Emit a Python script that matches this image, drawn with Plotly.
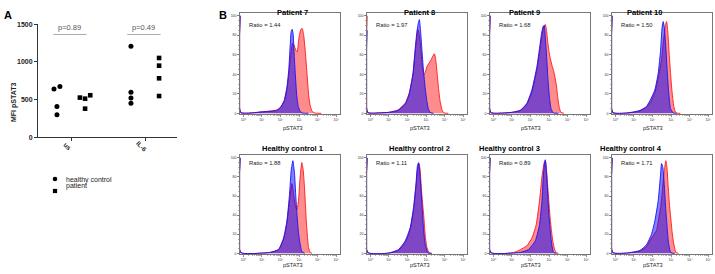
import numpy as np
import plotly.graph_objects as go

W, H = 715, 274
FONT = "Arial, 'Liberation Sans', Helvetica, sans-serif"

# ---------------- Panel A data ----------------
groups = ["us", "IL-6"]
hc_us = [640, 675, 410, 300]
hc_il6 = [1208, 598, 522, 451]
pt_us = [527, 513, 380, 558]
pt_il6 = [1053, 951, 783, 548]
p_values = ["p=0.89", "p=0.49"]

# ---------------- Panel B data (log10 pSTAT3, % of max) ----------------
titles = ["Patient 7", "Patient 8", "Patient 9", "Patient 10",
          "Healthy control 1", "Healthy control 2", "Healthy control 3", "Healthy control 4"]
ratios = ["1.44", "1.97", "1.68", "1.50", "1.88", "1.11", "0.89", "1.71"]
decade_labels = ["10⁰", "10¹", "10²", "10³", "10⁴", "10⁵"]

p7_blue = [(-0.16,100),(-0.13,1),(0.5,0.5),(1.0,1.5),(1.5,2),(1.8,3),(2.0,6),(2.2,13),(2.35,27),(2.45,45),
           (2.52,68),(2.58,84),(2.63,86),(2.68,82),(2.74,60),(2.8,40),(2.88,18),(2.96,7),(3.06,2),(3.2,0.3),(3.5,0)]
p7_red = [(-0.16,100),(-0.13,1),(0.5,0.5),(1.0,1.5),(1.5,2.5),(1.8,3.5),(2.0,6),(2.2,12),(2.35,24),(2.45,40),
          (2.55,58),(2.65,72),(2.73,70),(2.82,65),(2.9,63),(3.0,78),(3.1,86),(3.17,87),(3.25,80),(3.35,60),
          (3.43,40),(3.52,18),(3.6,8),(3.7,2),(3.85,0.3),(4.2,0)]
p8_blue = [(-0.16,85),(-0.13,1),(0.5,0.5),(1.0,1),(1.5,3),(1.9,10),(2.1,20),(2.3,41),(2.4,62),(2.5,82),
           (2.58,92),(2.64,96),(2.7,86),(2.78,65),(2.86,45),(2.96,25),(3.05,12),(3.12,5),(3.22,1),(3.4,0)]
p8_red = [(-0.16,100),(-0.13,1),(0.5,0.5),(1.0,1),(1.5,3.5),(1.9,11),(2.1,21),(2.3,40),(2.4,60),(2.5,78),
          (2.56,86),(2.62,82),(2.7,70),(2.8,48),(2.88,40),(2.96,42),(3.05,48),(3.15,51),(3.25,54),(3.35,58),
          (3.45,61),(3.52,55),(3.6,40),(3.68,24),(3.76,12),(3.85,4),(3.95,0.5),(4.2,0)]
p9_blue = [(-0.16,100),(-0.13,1),(0.5,0.3),(1.0,1),(1.45,3),(1.8,10),(2.08,24),(2.35,48),(2.5,68),(2.6,82),
           (2.68,89),(2.74,90),(2.8,78),(2.87,58),(2.95,33),(3.03,15),(3.12,4),(3.24,0.5),(3.5,0)]
p9_red = [(-0.16,100),(-0.13,1),(0.5,0.3),(1.0,1),(1.45,3),(1.8,9),(2.08,22),(2.35,45),(2.5,64),(2.62,80),
          (2.72,89),(2.8,91),(2.86,86),(2.92,75),(3.0,63),(3.07,56),(3.16,49),(3.24,44),(3.32,37),(3.4,28),
          (3.47,16),(3.55,6),(3.64,1),(3.8,0)]
p10_blue = [(-0.16,100),(-0.13,1),(0.6,0.3),(1.0,1.5),(1.33,3),(1.68,7),(1.92,15),(2.13,24),(2.31,41),(2.44,65),
            (2.52,88),(2.58,94),(2.64,88),(2.72,68),(2.8,42),(2.88,20),(2.97,5),(3.12,0.5),(3.3,0)]
p10_red = [(-0.16,100),(-0.13,1),(0.6,0.3),(1.0,1),(1.33,2.5),(1.68,6),(1.92,12),(2.13,21),(2.31,36),(2.49,55),
           (2.6,75),(2.7,90),(2.76,94),(2.82,85),(2.9,61),(2.97,42),(3.03,27),(3.1,14),(3.15,7),(3.22,2),
           (3.3,0.3),(3.5,0)]
hc1_blue = [(-0.16,100),(-0.13,1),(1.0,0.3),(1.45,1),(1.9,4),(2.17,16),(2.35,34),(2.49,62),(2.58,87),(2.67,97),
            (2.76,83),(2.82,62),(2.89,41),(2.96,24),(3.03,13),(3.15,2),(3.3,0)]
hc1_red = [(-0.16,100),(-0.13,1),(1.0,0.3),(1.45,1),(1.9,4),(2.17,15),(2.35,32),(2.49,55),(2.62,73),(2.72,60),
           (2.8,50),(2.89,46),(2.97,55),(3.06,80),(3.15,95),(3.22,88),(3.28,73),(3.34,52),(3.39,34),(3.45,18),
           (3.51,6),(3.6,1),(3.7,0)]
hc2_blue = [(-0.16,100),(-0.13,1),(1.0,0.3),(1.52,4),(1.88,13),(2.15,27),(2.33,48),(2.46,73),(2.54,92),(2.6,95),
            (2.66,86),(2.72,70),(2.81,41),(2.88,22),(2.96,9),(3.1,0.5),(3.3,0)]
hc2_red = [(-0.16,100),(-0.13,1),(1.0,0.3),(1.52,3),(1.88,11),(2.15,25),(2.33,45),(2.46,70),(2.55,88),(2.62,94),
           (2.68,88),(2.76,65),(2.87,41),(2.96,18),(3.05,6),(3.17,0.5),(3.3,0)]
hc3_blue = [(-0.16,100),(-0.13,1),(1.0,0.3),(1.45,1),(1.9,4),(2.26,13),(2.49,30),(2.62,55),(2.7,83),(2.77,96),
            (2.8,98),(2.84,92),(2.88,80),(2.94,58),(2.99,41),(3.06,25),(3.12,13),(3.24,1),(3.4,0)]
hc3_red = [(-0.16,100),(-0.13,1),(1.0,0.5),(1.27,2),(1.81,8),(2.08,16),(2.31,30),(2.49,55),(2.62,80),(2.74,95),
           (2.8,97),(2.86,88),(2.92,73),(3.0,52),(3.06,37),(3.13,24),(3.2,13),(3.3,4),(3.39,0.5),(3.5,0)]
hc4_blue = [(-0.16,100),(-0.13,1),(0.6,0.3),(1.33,3),(1.68,9),(1.95,20),(2.13,34),(2.31,55),(2.44,83),(2.49,94),
            (2.54,92),(2.58,87),(2.65,68),(2.72,45),(2.8,25),(2.85,13),(2.93,4),(3.0,0.5),(3.2,0)]
hc4_red = [(-0.16,100),(-0.13,1),(0.6,0.3),(1.33,2.5),(1.68,7),(1.95,16),(2.22,24),(2.34,36),(2.44,48),(2.52,62),
           (2.58,76),(2.65,88),(2.72,97),(2.78,90),(2.85,69),(2.92,50),(3.0,34),(3.06,22),(3.12,13),(3.2,5),
           (3.26,1),(3.4,0)]

blue_curves = [p7_blue, p8_blue, p9_blue, p10_blue, hc1_blue, hc2_blue, hc3_blue, hc4_blue]
red_curves = [p7_red, p8_red, p9_red, p10_red, hc1_red, hc2_red, hc3_red, hc4_red]

# ---------------- layout helpers ----------------
def px(x):
    return x / W

def py(y):
    return (H - y) / H

fig = go.Figure()
annotations = []
shapes = []

# ---------------- Panel A ----------------
hc_us_dx = [-0.23, -0.15, -0.19, -0.19]
pt_us_dx = [0.12, 0.19, 0.19, 0.26]
hc_il6_dx = [-0.19] * 4
pt_il6_dx = [0.19] * 4

hc_x = [1 + d for d in hc_us_dx] + [2 + d for d in hc_il6_dx]
pt_x = [1 + d for d in pt_us_dx] + [2 + d for d in pt_il6_dx]
fig.add_trace(go.Scatter(x=hc_x, y=hc_us + hc_il6, mode="markers", name="healthy control",
                         marker=dict(symbol="circle", size=5, color="black"),
                         xaxis="x", yaxis="y", cliponaxis=False, showlegend=False))
fig.add_trace(go.Scatter(x=pt_x, y=pt_us + pt_il6, mode="markers", name="patient",
                         marker=dict(symbol="square", size=4.6, color="black"),
                         xaxis="x", yaxis="y", cliponaxis=False, showlegend=False))

layout_axes = {}
layout_axes["xaxis"] = dict(domain=[px(38), px(177)], range=[0.554, 2.432], anchor="y", automargin=False,
                            showline=True, linecolor="#333", linewidth=1, ticks="outside",
                            ticklen=3, tickcolor="#333", tickvals=[1, 2], showticklabels=False,
                            showgrid=False, zeroline=False)
layout_axes["yaxis"] = dict(domain=[py(137.3), py(24.3)], range=[0, 1500], anchor="x", automargin=False,
                            showline=True, linecolor="#333", linewidth=1, ticks="outside",
                            ticklen=3, tickcolor="#333", tickvals=[0, 500, 1000, 1500],
                            tickfont=dict(size=7, family=FONT, color="#222", weight="bold"),
                            showgrid=False, zeroline=False)

for i, g in enumerate(groups):
    annotations.append(dict(x=i + 1 - 0.04, y=py(146), xref="x", yref="paper", text="<b>%s</b>" % g,
                            showarrow=False, textangle=45, font=dict(size=6.5, family=FONT, color="#222")))
for i, p in enumerate(p_values):
    annotations.append(dict(x=i + 1 - 0.02, y=1452, xref="x", yref="y", text=p, showarrow=False,
                            font=dict(size=7.5, family=FONT, color="#555")))
    shapes.append(dict(type="line", xref="x", yref="y", x0=i + 1 - 0.24, x1=i + 1 + 0.21,
                       y0=1365, y1=1365, line=dict(color="#aaa", width=1)))
annotations.append(dict(x=px(8), y=py(80), xref="paper", yref="paper", text="<b>MFI pSTAT3</b>",
                        textangle=-90, showarrow=False, font=dict(size=7, family=FONT, color="#222")))
# legend
shapes.append(dict(type="circle", xref="paper", yref="paper", x0=px(52.7), x1=px(57.3),
                   y0=py(181.3), y1=py(176.7), fillcolor="black", line=dict(width=0)))
shapes.append(dict(type="rect", xref="paper", yref="paper", x0=px(52.9), x1=px(57.1),
                   y0=py(193.1), y1=py(188.9), fillcolor="black", line=dict(width=0)))
annotations.append(dict(x=px(64), y=py(179.5), xref="paper", yref="paper", text="healthy control",
                        xanchor="left", showarrow=False, font=dict(size=7, family=FONT, color="#222")))
annotations.append(dict(x=px(64), y=py(191.5), xref="paper", yref="paper", text="patient",
                        xanchor="left", showarrow=False, font=dict(size=7, family=FONT, color="#222")))

annotations.append(dict(x=px(1.5), y=py(7.5), xref="paper", yref="paper", text="<b>A</b>", xanchor="left",
                        showarrow=False, font=dict(size=11, family=FONT, color="black")))
annotations.append(dict(x=px(217), y=py(7.5), xref="paper", yref="paper", text="<b>B</b>", xanchor="left",
                        showarrow=False, font=dict(size=11, family=FONT, color="black")))

# ---------------- Panel B ----------------
lefts = [240, 367, 490, 612]
pw = 100
rows = [dict(bottom=114.3, top=12.8, title=6, ratio=20, xt=128.2),
        dict(bottom=254.3, top=155.0, title=148, ratio=163, xt=269.8)]
minor_vals = [m * 10 ** d for d in range(0, 5) for m in range(2, 10)]

for k in range(8):
    r = rows[k // 4]
    L = lefts[k % 4]
    n = k + 2
    xa, ya = "x%d" % n, "y%d" % n
    for curve, lc, fc in [(red_curves[k], "rgb(255,20,20)", "rgba(255,0,0,0.45)"),
                          (blue_curves[k], "rgb(20,20,255)", "rgba(0,0,255,0.5)")]:
        lx = [c[0] for c in curve]
        yy = [c[1] for c in curve]
        fig.add_trace(go.Scatter(x=10 ** np.array(lx), y=yy, mode="lines", fill="tozeroy",
                                 fillcolor=fc, line=dict(color=lc, width=0.9, shape="spline", smoothing=0.5),
                                 xaxis=xa, yaxis=ya, showlegend=False, hoverinfo="skip"))
    layout_axes["xaxis%d" % n] = dict(
        domain=[px(L), px(L + pw)], type="log", range=[-0.17, 5.2], anchor=ya, automargin=False,
        showline=True, mirror=True, linecolor="#555", linewidth=0.8,
        ticks="outside", ticklen=1.6, tickcolor="#444", tickwidth=0.6,
        tickvals=[1, 10, 100, 1000, 10000, 100000],
        ticktext=decade_labels,
        tickfont=dict(size=3.6, family=FONT, color="#333"),
        minor=dict(tickvals=minor_vals, ticks="outside", ticklen=1.0, tickcolor="#666", tickwidth=0.5),
        showgrid=False, zeroline=False)
    layout_axes["yaxis%d" % n] = dict(
        domain=[py(r["bottom"]), py(r["top"])], range=[-1, 103], anchor=xa, automargin=False,
        showline=True, mirror=True, linecolor="#555", linewidth=0.8,
        ticks="outside", ticklen=2, tickcolor="#444", tickwidth=0.6,
        tickvals=[0, 20, 40, 60, 80, 100],
        tickfont=dict(size=3.5, family=FONT, color="#333"),
        minor=dict(dtick=5, ticks="outside", ticklen=1.2, tickcolor="#666", tickwidth=0.5),
        showgrid=False, zeroline=False)
    annotations.append(dict(x=px(L + pw / 2 + 2), y=py(r["title"]), xref="paper", yref="paper",
                            text="<b>%s</b>" % titles[k], showarrow=False,
                            font=dict(size=7.5, family=FONT, color="black")))
    annotations.append(dict(x=px(L + 7), y=py(r["ratio"]), xref="paper", yref="paper",
                            text="Ratio = %s" % ratios[k], xanchor="left", showarrow=False,
                            font=dict(size=5.8, family=FONT, color="#222")))
    annotations.append(dict(x=px(L + pw / 2 + 3), y=py(r["xt"]), xref="paper", yref="paper",
                            text="pSTAT3", showarrow=False,
                            font=dict(size=5.6, family=FONT, color="#222")))

fig.update_layout(template="none", width=W, height=H,
                  margin=dict(l=0, r=0, t=0, b=0, pad=0, autoexpand=False),
                  paper_bgcolor="white", plot_bgcolor="white",
                  font=dict(family=FONT), showlegend=False,
                  annotations=annotations, shapes=shapes, **layout_axes)

fig.write_html("out.html", config={"displayModeBar": False, "staticPlot": True},
               post_script="document.body.style.margin='0';document.body.style.overflow='hidden';")
